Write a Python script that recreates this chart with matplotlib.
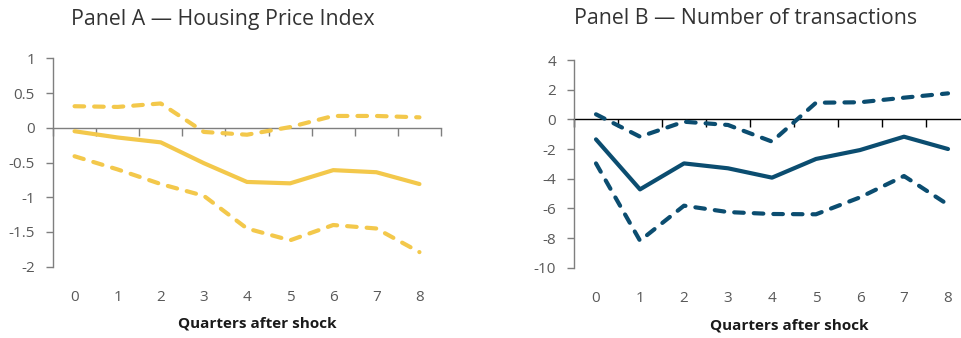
import numpy as np
import matplotlib
matplotlib.use('Agg')
import matplotlib.pyplot as plt
from matplotlib.ticker import FuncFormatter

plt.rcParams['font.family'] = ['Open Sans', 'DejaVu Sans']
plt.rcParams['axes.unicode_minus'] = False

#%% impulse responses, quarters after shock
quarters = np.arange(9)

# Panel A: housing price index
hpi_mid = [-0.05, -0.14, -0.21, -0.51, -0.78, -0.80, -0.61, -0.64, -0.81]
hpi_up = [0.31, 0.30, 0.35, -0.06, -0.10, 0.01, 0.17, 0.17, 0.15]
hpi_lo = [-0.41, -0.60, -0.81, -0.98, -1.45, -1.62, -1.40, -1.45, -1.79]

# Panel B: number of transactions
trx_mid = [-1.35, -4.72, -2.97, -3.30, -3.93, -2.67, -2.07, -1.17, -2.0]
trx_up = [0.34, -1.17, -0.16, -0.38, -1.5, 1.12, 1.15, 1.46, 1.75]
trx_lo = [-2.97, -8.18, -5.82, -6.25, -6.38, -6.40, -5.26, -3.82, -5.75]

yticks_a = [1, 0.5, 0, -0.5, -1, -1.5, -2]
yticks_b = [4, 2, 0, -2, -4, -6, -8, -10]

yellow = '#F3C84B'
navy = '#0B4D70'
W, H = 961, 338

fig = plt.figure(figsize=(W/100, H/100), dpi=100)
axA = fig.add_axes([53/W, (H-266.7)/H, 388/W, 208.4/H])
axB = fig.add_axes([574/W, (H-267.7)/H, 396/W, 207.7/H])


def style_panel(ax, mid, up, lo, col, yticks, zcol):
    ax.plot(quarters, mid, color=col, lw=3.0, solid_capstyle='round', zorder=3)
    for band in (up, lo):
        ax.plot(quarters, band, color=col, lw=3.0, ls=(0, (2.3, 2.4)),
                dash_capstyle='round', zorder=3)
    ax.set_xlim(-0.5, 8.5)
    ax.set_ylim(min(yticks), max(yticks))
    ax.set_yticks(yticks)
    ax.yaxis.set_major_formatter(FuncFormatter(lambda v, p: '%g' % v))
    ax.tick_params(axis='y', direction='out', length=5, width=1, color='#7f7f7f',
                   labelcolor='#595959', labelsize=11, pad=8)
    for s in ('top', 'right'):
        ax.spines[s].set_visible(False)
    ax.spines['left'].set_color('#7f7f7f')
    ax.spines['left'].set_linewidth(1)
    # category boundaries ticked along the zero line
    ax.spines['bottom'].set_position(('data', 0))
    ax.spines['bottom'].set_color(zcol)
    ax.spines['bottom'].set_linewidth(1)
    ax.spines['bottom'].set_zorder(2)
    ax.set_xticks(np.arange(-0.5, 9.0, 1.0))
    ax.tick_params(axis='x', direction='out', length=6, width=1, color=zcol,
                   labelbottom=False)
    # quarter labels at the bottom of the plot area
    sec = ax.secondary_xaxis('bottom')
    sec.spines['bottom'].set_visible(False)
    sec.set_xticks(quarters)
    sec.set_xticklabels([str(q) for q in quarters])
    sec.tick_params(length=0, pad=17, labelsize=11, labelcolor='#595959')
    ax.patch.set_visible(False)


style_panel(axA, hpi_mid, hpi_up, hpi_lo, yellow, yticks_a, '#7f7f7f')
style_panel(axB, trx_mid, trx_up, trx_lo, navy, yticks_b, '#000000')

fig.text(223/W, 1 - 19/H, 'Panel A \u2014 Housing Price Index', ha='center', va='center',
         fontsize=15.3, color='#333333')
fig.text(746/W, 1 - 19/H, 'Panel B \u2014 Number of transactions', ha='center', va='center',
         fontsize=15.3, color='#333333')
fig.text(257/W, 1 - 323/H, 'Quarters after shock', ha='center', va='center',
         fontsize=11, fontweight='bold', color='#1a1a1a')
fig.text(789/W, 1 - 325/H, 'Quarters after shock', ha='center', va='center',
         fontsize=11, fontweight='bold', color='#1a1a1a')

fig.savefig('out.png', dpi=100, facecolor='white')
